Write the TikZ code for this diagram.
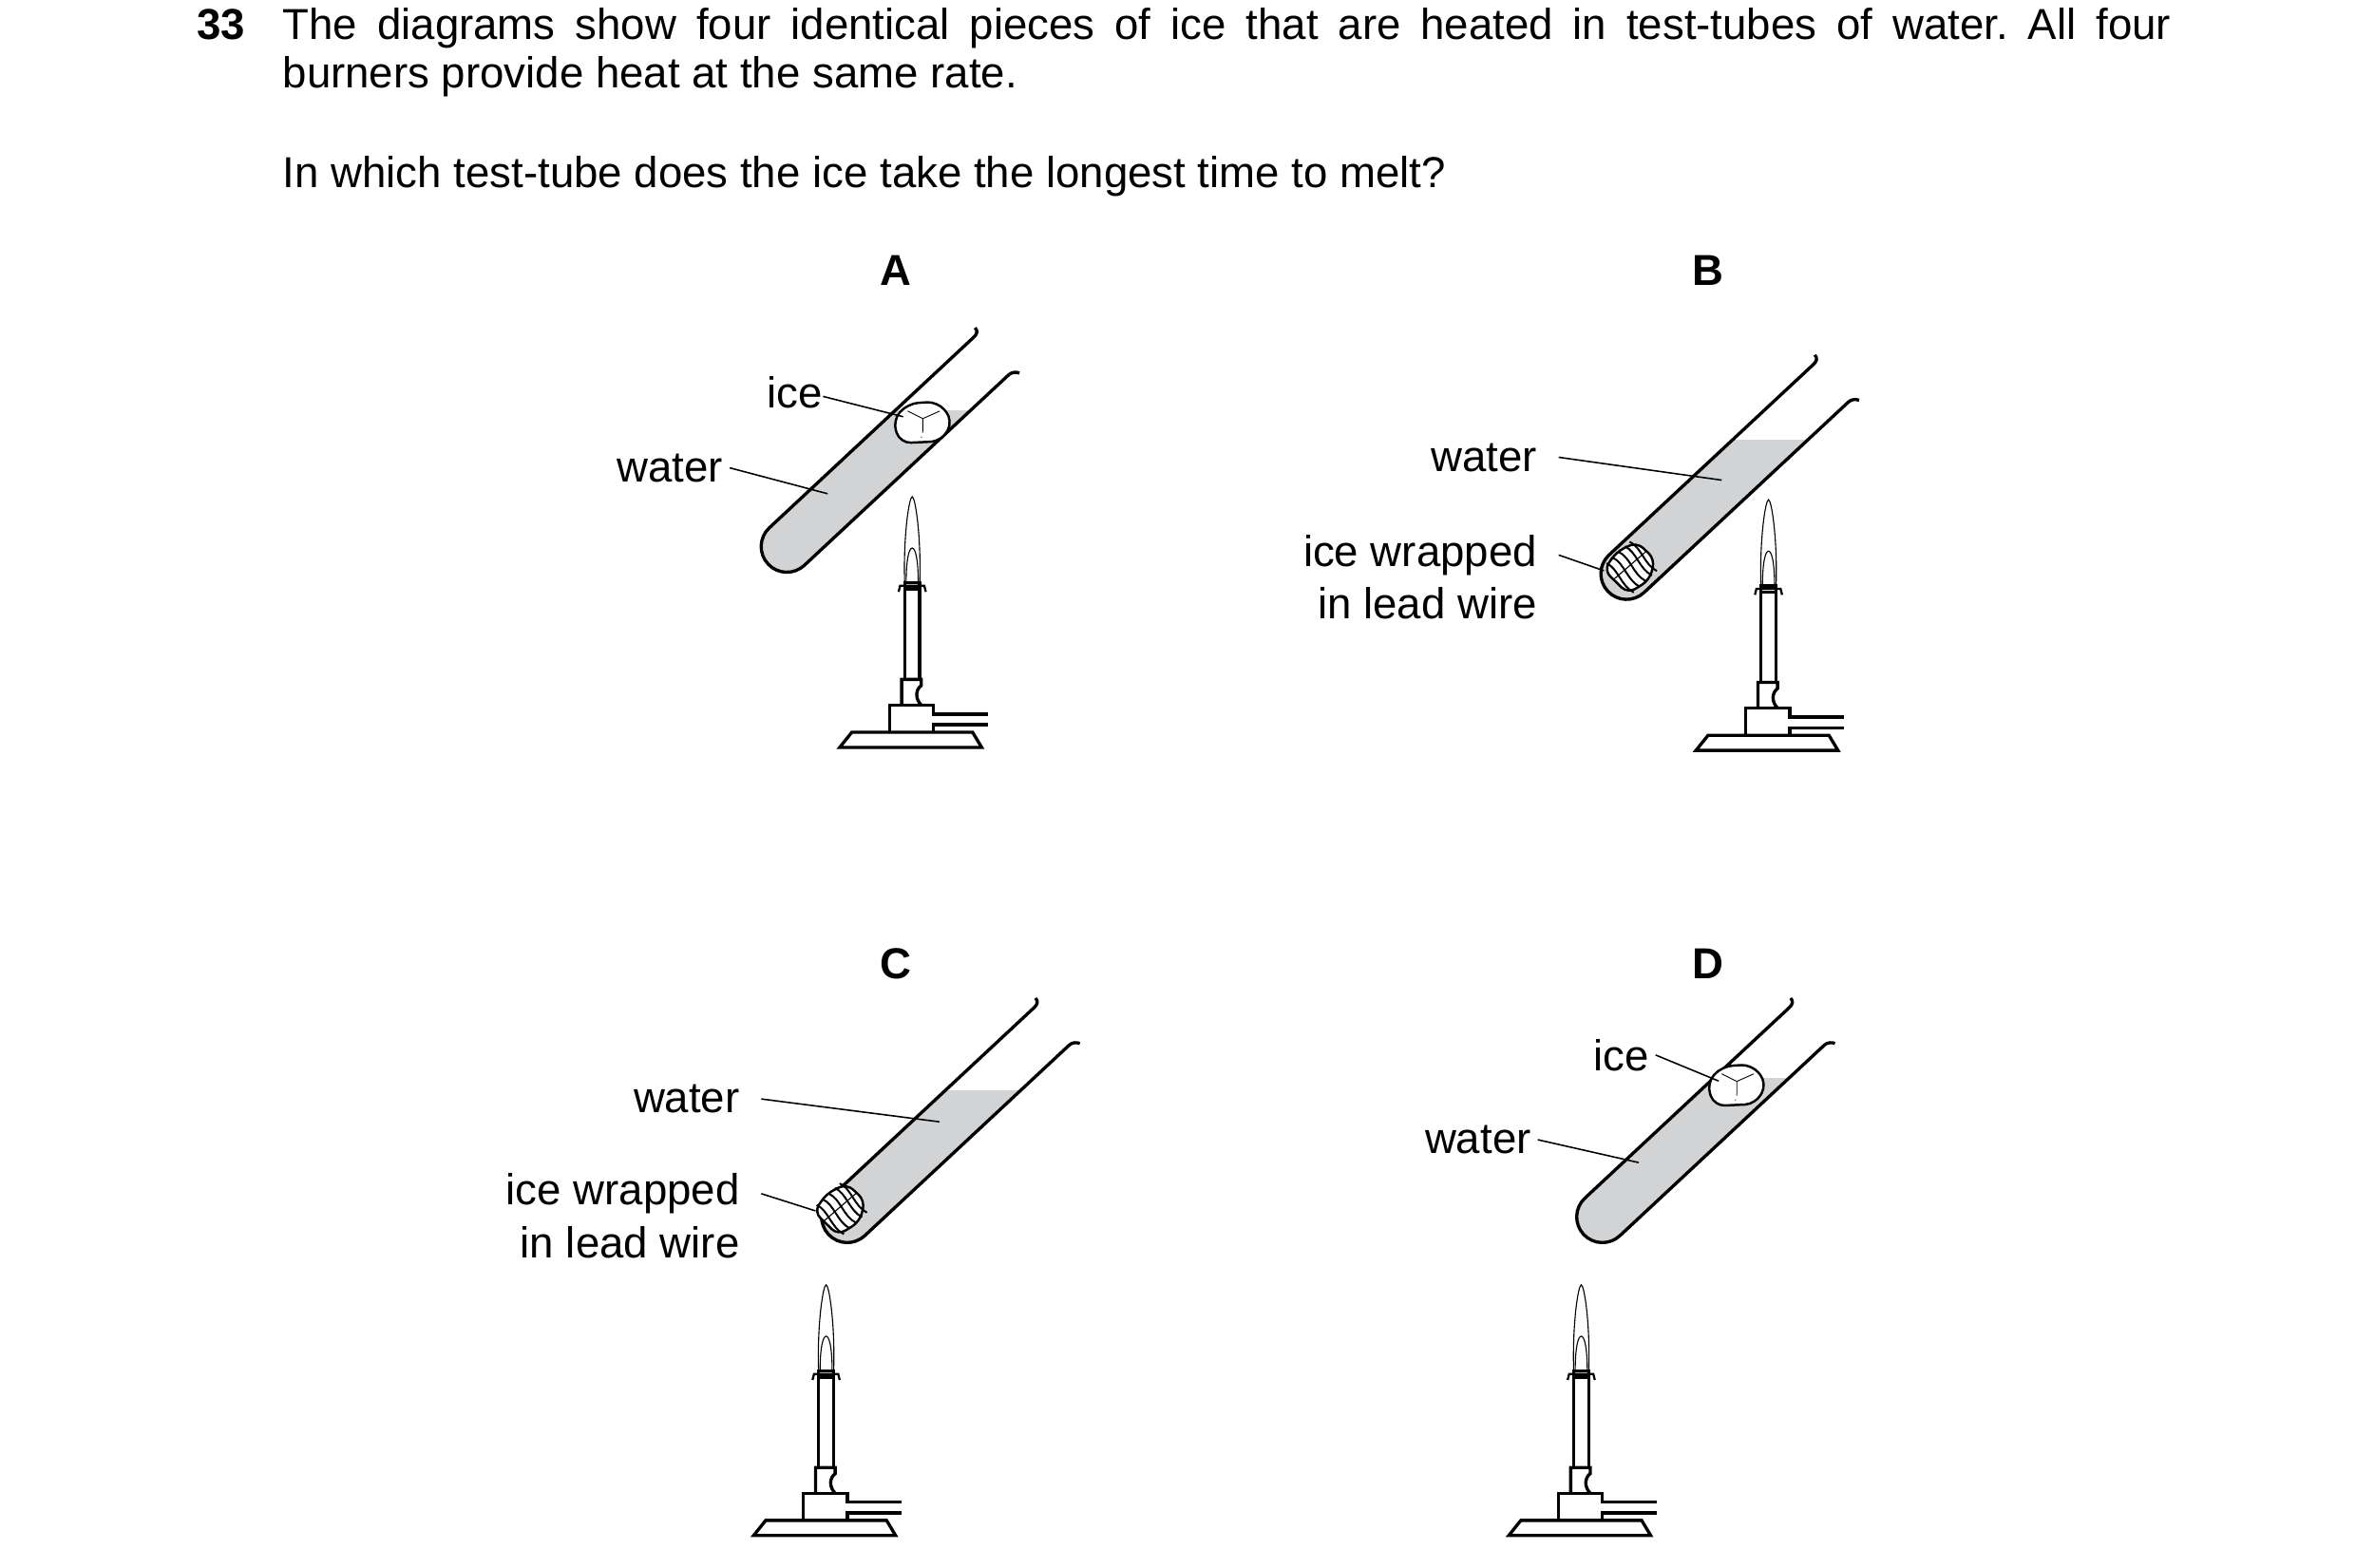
\documentclass[tikz,border=0pt]{standalone}
\usepackage{fontspec}
\setmainfont{Liberation Sans}
\begin{document}
\frenchspacing
\begin{tikzpicture}[x=0.025cm,y=-0.025cm,
  wall/.style={line width=1.5pt,line join=round},
  bl/.style={line width=1.5pt,line join=miter},
  lead/.style={line width=0.7pt},
  lab/.style={font=\fontsize{20.4}{24}\selectfont,inner sep=0pt},
  head/.style={font=\fontsize{20.4}{24}\selectfont\bfseries,inner sep=0pt,anchor=base},
  burner/.pic={
    \draw[line width=0.5pt] (-5,-109) .. controls (-6,-140) and (-2,-166) .. (0,-166) .. controls (2,-166) and (6,-140) .. (5,-109);
    \draw[line width=0.5pt] (-4,-109) .. controls (-4,-125) and (-2,-132) .. (0,-132) .. controls (2,-132) and (4,-125) .. (4,-109);
    \draw[bl] (-5,-45) -- (-5,-109) -- (5,-109) -- (5,-45);
    \draw[bl] (-5,-105) -- (5,-105);
    \draw[line width=1pt] (-9,-103) -- (-8,-107) -- (8,-107) -- (9,-103);
    \draw[bl] (-7,-28) -- (-7,-45) -- (6,-45) -- (6,-41) .. controls (2,-38) and (2,-32) .. (6,-28);
    \draw[bl] (-15,-10) -- (-15,-28) -- (14,-28) -- (14,-22) -- (50,-22);
    \draw[bl] (50,-15) -- (14,-15) -- (14,-10);
    \draw[bl] (-48,0) -- (-40,-10) -- (40,-10) -- (46,0) -- cycle;
  }]
\useasboundingbox (0,0) rectangle (1560,1038);
\newcommand\tubeAt[3]{%
  \begin{scope}[shift={(#1,#2)},rotate=43]
    \begin{scope}
      \clip (185,-17) -- (0,-17) arc[start angle=270,end angle=90,radius=17] -- (185,17) -- cycle;
      \fill[fill={rgb,255:red,210;green,211;blue,213}, reset cm] (0,#3) rectangle (1560,1038);
    \end{scope}
    \draw[wall] (190,-21) .. controls (190,-18) and (188,-17) .. (185,-17) -- (0,-17) arc[start angle=270,end angle=90,radius=17] -- (185,17) .. controls (188,17) and (190,19) .. (191,21);
  \end{scope}}
\newcommand\iceAt[2]{%
  \begin{scope}[shift={(#1,#2)},scale=1.25]
    \draw[line width=1.1pt,fill=white,rounded corners=5] (-16,-2) -- (-8,-11) -- (8,-12) -- (16,-2) -- (10,9) -- (-12,10) -- cycle;
    \draw[line width=0.4pt] (-8,-7) -- (0,-3) -- (9,-7) (0,-3) -- (0,4);
    \draw[line width=0.4pt,dotted] (0,4) -- (-1,8);
  \end{scope}}
\newcommand\wrapAt[2]{%
  \begin{scope}[shift={(#1,#2)},rotate=43,scale=1.1]
    \draw[line width=1.1pt,fill=white,rounded corners=4] (-13,-10) -- (0,-13) -- (13,-9) -- (14,6) -- (3,13) -- (-12,10) -- cycle;
    \foreach \u in {-9,-4,1,6,10}{\draw[line width=0.9pt] (\u,-12) .. controls (\u+3,-5) and (\u-3,4) .. (\u,12);}
    \draw[line width=0.5pt] (-13,-2) -- (13,-1);
  \end{scope}}
% question text
\node[head,anchor=base west] (num) at (130,26) {33};
\node[lab,anchor=base west,text width=31.25cm,align=justify] (q1) at (187,26) {\baselineskip=0.8cm The diagrams show four identical pieces of ice that are heated in test-tubes of water. All four\linebreak burners provide heat at the same rate.\par};
\node[lab,anchor=base west] (q2) at (187,124) {In which test-tube does the ice take the longest time to melt?};
% headings
\node[head] (hA) at (593,189) {A};
\node[head] (hB) at (1131,189) {B};
\node[head] (hC) at (593,648) {C};
\node[head] (hD) at (1131,648) {D};
% burners
\pic (bA) at (604,495) {burner};
\pic (bB) at (1171,497) {burner};
\pic (bC) at (547,1017) {burner};
\pic (bD) at (1047,1017) {burner};
% tubes
\tubeAt{521}{362}{272}
\tubeAt{1077}{380}{291}
\tubeAt{561}{806}{722}
\tubeAt{1061}{806}{714}
\iceAt{611}{281}
\iceAt{1150}{720}
\wrapAt{1080}{376}
\wrapAt{557}{801}
% labels A
\node[lab,anchor=base east] (iA) at (545,270) {ice};
\coordinate (iAe) at (598,276);
\draw[lead] ([yshift=-2]iA.east) -- (iAe);
\node[lab,anchor=base east] (wA) at (479,319) {water};
\coordinate (wAe) at (548,327);
\draw[lead] ([xshift=3]wA.east) -- (wAe);
% labels B
\node[lab,anchor=base east] (wB) at (1018,312) {water};
\coordinate (wBe) at (1140,318);
\draw[lead] ([xshift=10]wB.east) -- (wBe);
\node[lab,anchor=base east] (lB1) at (1018,375) {ice wrapped};
\node[lab,anchor=base east] (lB2) at (1018,410) {in lead wire};
\coordinate (lBe) at (1062,378);
\draw[lead] ([xshift=10]lB1.east) -- (lBe);
% labels C
\node[lab,anchor=base east] (wC) at (490,737) {water};
\coordinate (wCe) at (622,743);
\draw[lead] ([xshift=10]wC.east) -- (wCe);
\node[lab,anchor=base east] (lC1) at (490,798) {ice wrapped};
\node[lab,anchor=base east] (lC2) at (490,833) {in lead wire};
\coordinate (lCe) at (540,802);
\draw[lead] ([xshift=10]lC1.east) -- (lCe);
% labels D
\node[lab,anchor=base east] (iD) at (1092,709) {ice};
\coordinate (iDe) at (1138,716);
\draw[lead] ([xshift=3]iD.east) -- (iDe);
\node[lab,anchor=base east] (wD) at (1014,764) {water};
\coordinate (wDe) at (1085,770);
\draw[lead] ([xshift=3]wD.east) -- (wDe);
\end{tikzpicture}
\end{document}
